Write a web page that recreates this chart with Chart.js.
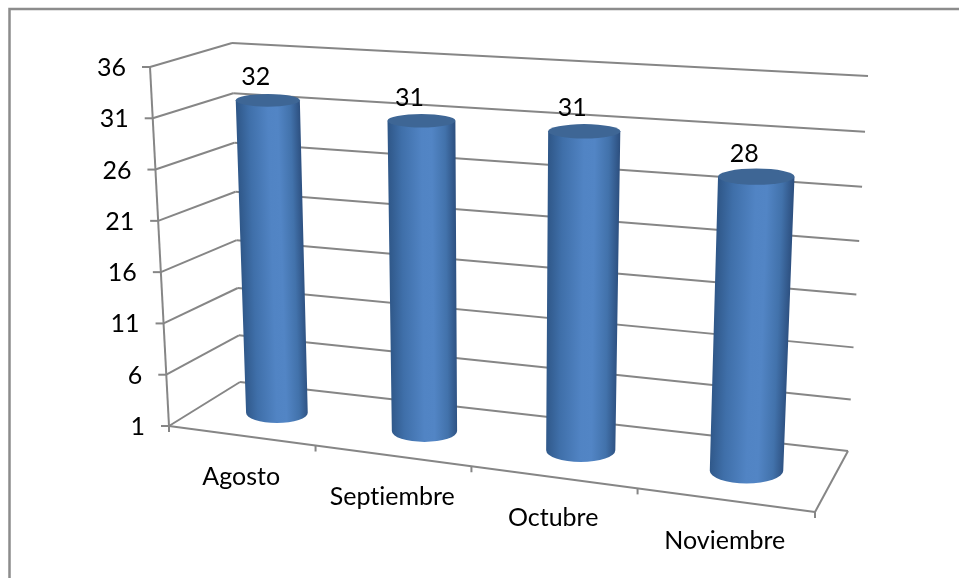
<!DOCTYPE html>
<html>
<head>
<meta charset="utf-8">
<script src="https://cdn.jsdelivr.net/npm/chart.js@4"></script>
<style>
  html, body { margin: 0; padding: 0; background: #fff; }
  canvas { display: block; }
</style>
</head>
<body>
<canvas id="chart" width="959" height="578"></canvas>
<script>
const categories = ['Agosto', 'Septiembre', 'Octubre', 'Noviembre'];
const valores = [32, 31, 31, 28];

const gridColor = '#868686';
const textFont = '25px Lato';

// corners of the box as [x, y]: bottom left, bottom right, top right, top left
const frontPlane = [[169, 426], [815, 512], [830, 104], [150, 65]];
const backPlane = [[240, 382], [848, 451], [868, 76], [232, 43]];
const axisTop = [150, 67];

// Maps the unit square on to a quad (perspective, not affine)
function quadMap(q) {
    const [[x0, y0], [x1, y1], [x2, y2], [x3, y3]] = q;
    const dx1 = x1 - x2, dx2 = x3 - x2, sx = x0 - x1 + x2 - x3;
    const dy1 = y1 - y2, dy2 = y3 - y2, sy = y0 - y1 + y2 - y3;
    const den = dx1 * dy2 - dx2 * dy1;
    const g = (sx * dy2 - dx2 * sy) / den;
    const h = (dx1 * sy - sx * dy1) / den;
    const a = x1 - x0 + g * x1, b = x3 - x0 + h * x3;
    const d = y1 - y0 + g * y1, e = y3 - y0 + h * y3;
    return (u, v) => {
        const w = g * u + h * v + 1;
        return [(a * u + b * v + x0) / w, (d * u + e * v + y0) / w];
    };
}

const front = quadMap(frontPlane);
const back = quadMap(backPlane);

function line(ctx, p, q) {
    ctx.beginPath();
    ctx.moveTo(p[0], p[1]);
    ctx.lineTo(q[0], q[1]);
    ctx.stroke();
}

function drawFrame(ctx) {
    ctx.strokeStyle = '#8c8c8c';
    ctx.lineWidth = 2.5;
    ctx.beginPath();
    ctx.moveTo(9.5, 578);
    ctx.lineTo(9.5, 9);
    ctx.lineTo(959, 9);
    ctx.stroke();
}

function drawBox(chart, ctx) {
    const { chartArea: area, scales: { x, y } } = chart;
    const vOf = val => (area.bottom - y.getPixelForValue(val)) / area.height;
    const axisBase = frontPlane[0];
    const onAxis = v => [axisBase[0] + (axisTop[0] - axisBase[0]) * v, axisBase[1] + (axisTop[1] - axisBase[1]) * v];

    ctx.strokeStyle = gridColor;
    ctx.lineWidth = 2;
    ctx.fillStyle = '#000';
    ctx.font = textFont;

    // gridlines on the side and back walls, value ticks and their labels
    y.ticks.forEach(t => {
        const v = vOf(t.value);
        const p = onAxis(v);
        line(ctx, [p[0] - 8, p[1]], p);
        line(ctx, p, back(0, v));
        line(ctx, back(0, v), back(1, v));
        ctx.textAlign = 'right';
        ctx.textBaseline = 'middle';
        ctx.fillText(t.label, p[0] - 24, p[1] + 1);
    });

    // axis edges
    line(ctx, axisBase, axisTop);
    line(ctx, front(0, 0), front(1, 0));
    line(ctx, front(1, 0), back(1, 0));

    // category ticks on the front edge
    for (let i = 0; i <= categories.length; i++) {
        const p = front(i / categories.length, 0);
        line(ctx, p, [p[0], p[1] + 6]);
    }

    // category labels
    ctx.textAlign = 'center';
    categories.forEach((name, i) => {
        const p = front((x.getPixelForValue(i) - area.left) / area.width, 0);
        ctx.fillText(name, p[0], p[1] + 41);
    });
}

function drawCylinders(chart, ctx) {
    const { chartArea: area } = chart;
    const depth = 0.5, radiusDepth = 0.19, shiftX = 1.5;
    const at = (px, py, d) => {
        const u = (px - area.left) / area.width;
        const v = (area.bottom - py) / area.height;
        const f = front(u, v), b = back(u, v);
        return [f[0] + (b[0] - f[0]) * d + shiftX, f[1] + (b[1] - f[1]) * d];
    };
    const disc = (px, py, w) => {
        const l = at(px - w / 2, py, depth);
        const r = at(px + w / 2, py, depth);
        const ry = 1.5 + (at(px, py, depth - radiusDepth)[1] - at(px, py, depth + radiusDepth)[1]) / 2;
        return { cx: (l[0] + r[0]) / 2, cy: (l[1] + r[1]) / 2, rx: (r[0] - l[0]) / 2, ry };
    };

    chart.getDatasetMeta(0).data.forEach((bar, i) => {
        const top = disc(bar.x, bar.y, bar.width);
        const bottom = disc(bar.x, bar.base, bar.width);

        ctx.save();
        ctx.beginPath();
        ctx.moveTo(top.cx - top.rx, top.cy);
        ctx.lineTo(bottom.cx - bottom.rx, bottom.cy);
        ctx.ellipse(bottom.cx, bottom.cy, bottom.rx, bottom.ry, 0, Math.PI, 0, true);
        ctx.lineTo(top.cx + top.rx, top.cy);
        ctx.closePath();

        // shear so the shading follows the lean of the cylinder
        const k = (top.cx - bottom.cx) / (top.cy - bottom.cy);
        ctx.transform(1, 0, k, 1, -k * bottom.cy, 0);
        const grad = ctx.createLinearGradient(bottom.cx - bottom.rx - 1, 0, bottom.cx + bottom.rx + 1, 0);
        grad.addColorStop(0, '#2f5788');
        grad.addColorStop(0.2, '#3f6fa9');
        grad.addColorStop(0.5, '#5184c4');
        grad.addColorStop(0.65, '#5285c5');
        grad.addColorStop(0.85, '#4272ab');
        grad.addColorStop(1, '#2d5080');
        ctx.fillStyle = grad;
        ctx.fill();
        ctx.restore();

        ctx.fillStyle = '#3e6695';
        ctx.beginPath();
        ctx.ellipse(top.cx, top.cy, top.rx, top.ry, 0, 0, Math.PI * 2);
        ctx.fill();

        // value label
        ctx.fillStyle = '#000';
        ctx.font = textFont;
        ctx.textAlign = 'center';
        ctx.textBaseline = 'middle';
        ctx.fillText(String(valores[i]), top.cx - 12, top.cy - 23);
    });
}

const boxPlugin = {
    id: 'box3d',
    beforeDatasetsDraw(chart) {
        const ctx = chart.ctx;
        ctx.textRendering = 'optimizeSpeed';
        drawFrame(ctx);
        drawBox(chart, ctx);
        drawCylinders(chart, ctx);
        return false;
    }
};

new Chart(document.getElementById('chart').getContext('2d'), {
    type: 'bar',
    data: {
        labels: categories,
        datasets: [{
            data: valores,
            base: 1,
            backgroundColor: '#4f81bd',
            barPercentage: 0.43,
            categoryPercentage: 1
        }]
    },
    options: {
        responsive: false,
        animation: false,
        plugins: { legend: { display: false }, tooltip: { enabled: false } },
        scales: {
            x: { display: false },
            y: { display: false, min: 1, max: 36, ticks: { stepSize: 5 } }
        }
    },
    plugins: [boxPlugin]
});
</script>
</body>
</html>
